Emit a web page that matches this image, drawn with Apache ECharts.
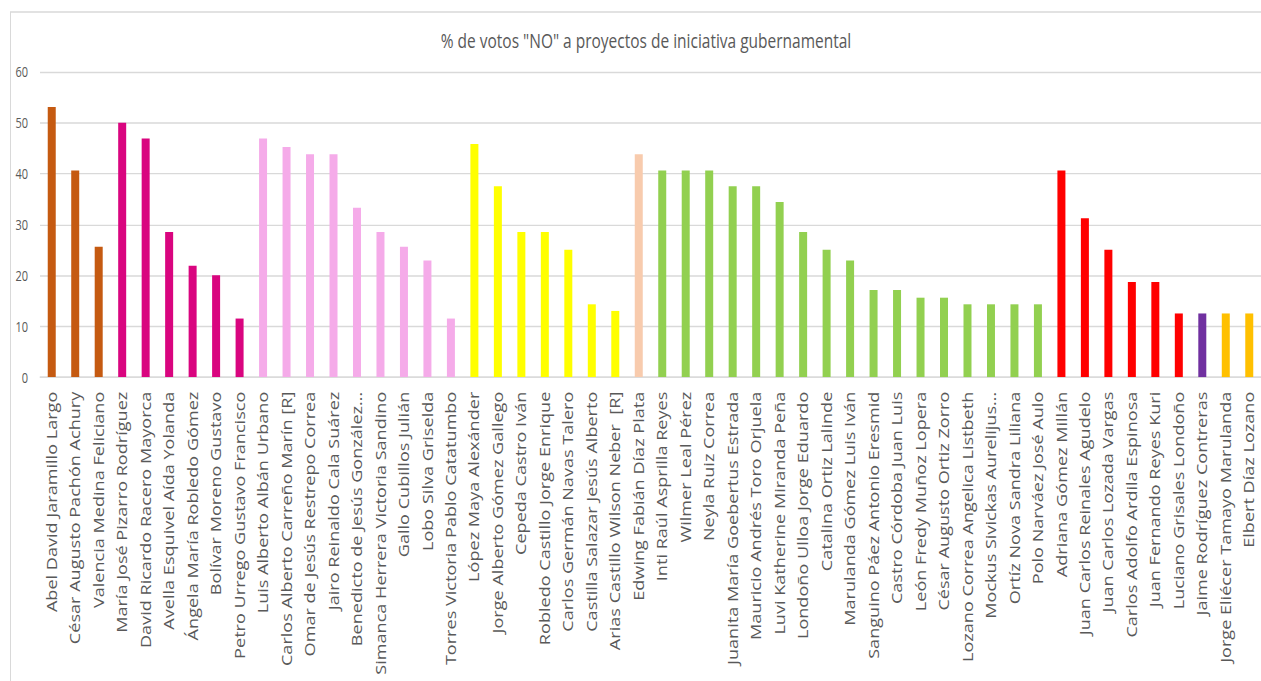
<!DOCTYPE html>
<html>
<head>
<meta charset="utf-8">
<script src="https://cdn.jsdelivr.net/npm/echarts@6/dist/echarts.min.js"></script>
<style>
  html, body { margin: 0; padding: 0; background: #fff; }
  #wrap { width: 1261px; height: 681px; position: relative; }
  /* the reference picture is stretched vertically, so the chart is drawn
     at 512px high and stretched to fill the 681px window */
  #chart { position: absolute; left: 0; top: 0; width: 1261px; height: 512px;
           transform: scaleY(1.33); transform-origin: 0 0; }
</style>
</head>
<body>
<div id="wrap"><div id="chart"></div></div>
<script>
// Congresistas (categorías del eje X)
const names = [
  'Abel David Jaramillo Largo', 'César Augusto Pachón Achury', 'Valencia Medina Feliciano',
  'María José Pizarro Rodríguez', 'David Ricardo Racero Mayorca', 'Avella Esquivel Aída Yolanda',
  'Ángela María Robledo Gómez', 'Bolívar Moreno Gustavo', 'Petro Urrego Gustavo Francisco',
  'Luis Alberto Albán Urbano', 'Carlos Alberto Carreño Marín [R]', 'Omar de Jesús Restrepo Correa',
  'Jairo Reinaldo Cala Suárez', 'Benedicto de Jesús González Montenegro', 'Simanca Herrera Victoria Sandino',
  'Gallo Cubillos Julián', 'Lobo Silva Griselda', 'Torres Victoria Pablo Catatumbo',
  'López Maya Alexánder', 'Jorge Alberto Gómez Gallego', 'Cepeda Castro Iván',
  'Robledo Castillo Jorge Enrique', 'Carlos Germán Navas Talero', 'Castilla Salazar Jesús Alberto',
  'Arias Castillo Wilson Neber  [R]', 'Edwing Fabián Díaz Plata', 'Inti Raúl Asprilla Reyes',
  'Wilmer Leal Pérez', 'Neyla Ruiz Correa', 'Juanita María Goebertus Estrada',
  'Mauricio Andrés Toro Orjuela', 'Luvi Katherine Miranda Peña', 'Londoño Ulloa Jorge Eduardo',
  'Catalina Ortiz Lalinde', 'Marulanda Gómez Luis Iván', 'Sanguino Páez Antonio Eresmid',
  'Castro Córdoba Juan Luis', 'León Fredy Muñoz Lopera', 'César Augusto Ortiz Zorro',
  'Lozano Correa Angelica Listbeth', 'Mockus Sivickas Aurelijus Rutenis Antanas', 'Ortíz Nova Sandra Liliana',
  'Polo Narváez José Aulo', 'Adriana Gómez Millán', 'Juan Carlos Reinales Agudelo',
  'Juan Carlos Lozada Vargas', 'Carlos Adolfo Ardila Espinosa', 'Juan Fernando Reyes Kuri',
  'Luciano Grisales Londoño', 'Jaime Rodríguez Contreras', 'Jorge Eliécer Tamayo Marulanda',
  'Elbert Díaz Lozano'
];

// % de votos "NO"
const values = [
  53.1, 40.6, 25.6,
  50.0, 46.9, 28.5, 21.9, 20.0, 11.5,
  46.9, 45.2, 43.8, 43.8, 33.3, 28.5, 25.6, 22.9, 11.5,
  45.8, 37.5, 28.5, 28.5, 25.0, 14.3, 13.0,
  43.8,
  40.6, 40.6, 40.6, 37.5, 37.5, 34.4, 28.5, 25.0, 22.9, 17.1, 17.1, 15.6, 15.6, 14.3, 14.3, 14.3, 14.3,
  40.6, 31.2, 25.0, 18.7, 18.7, 12.5,
  12.5,
  12.5, 12.5
];

// grupo (partido) de cada barra -> color
const groups = [
  0, 0, 0,
  1, 1, 1, 1, 1, 1,
  2, 2, 2, 2, 2, 2, 2, 2, 2,
  3, 3, 3, 3, 3, 3, 3,
  4,
  5, 5, 5, 5, 5, 5, 5, 5, 5, 5, 5, 5, 5, 5, 5, 5, 5,
  6, 6, 6, 6, 6, 6,
  7,
  8, 8
];
const groupColors = ['#C55A11', '#D9057F', '#F5ABE9', '#FFFF00', '#F8CBAD', '#92D050', '#FF0000', '#7030A0', '#FFC000'];

const yTicks = [0, 10, 20, 30, 40, 50, 60];

// long names are cut at a word boundary, like the spreadsheet does
function shortName(name) {
  if (name.length <= 32) return name;
  const words = name.split(' ');
  let out = '';
  for (const w of words) {
    const next = out ? out + ' ' + w : w;
    if (next.length > 29) break;
    out = next;
  }
  return out + '...';
}

const chart = echarts.init(document.getElementById('chart'), null, { renderer: 'svg' });

const options = {
  backgroundColor: '#fff',
  animation: false,
  textStyle: { fontFamily: 'Open Sans' },
  title: {
    text: '% de votos "NO" a proyectos de iniciativa gubernamental',
    left: 641,
    textAlign: 'center',
    top: 17,
    textStyle: { fontFamily: 'Open Sans', fontSize: 15.5, fontWeight: 'normal', color: '#595959' }
  },
  graphic: [{
    type: 'rect',
    shape: { x: 10.5, y: 9, width: 1300, height: 600 },
    style: { fill: 'none', stroke: '#d9d9d9', lineWidth: 1 },
    z: -1
  }],
  grid: { left: 40, right: 0, top: 54, bottom: 228.5, outerBoundsMode: 'none' },
  xAxis: {
    type: 'category',
    data: names,
    axisLine: { lineStyle: { color: '#d9d9d9', width: 1 } },
    axisTick: { show: false },
    axisLabel: {
      rotate: 90,
      interval: 0,
      margin: 11,
      fontSize: 13.6,
      color: '#595959',
      formatter: shortName
    }
  },
  yAxis: {
    type: 'value',
    min: yTicks[0],
    max: yTicks[yTicks.length - 1],
    interval: 10,
    axisLine: { show: false },
    axisTick: { show: false },
    axisLabel: { fontSize: 11, color: '#595959', margin: 12 },
    splitLine: { lineStyle: { color: '#d9d9d9', width: 1 } }
  },
  series: [{
    type: 'bar',
    barWidth: 8,
    data: values.map((v, i) => ({ value: v, itemStyle: { color: groupColors[groups[i]] } }))
  }]
};

chart.setOption(options);
</script>
</body>
</html>
